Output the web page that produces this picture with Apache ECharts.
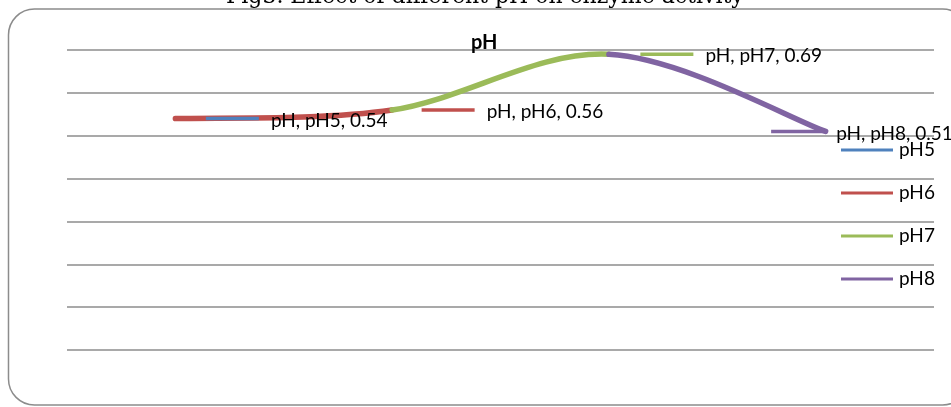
<!DOCTYPE html>
<html>
<head>
<meta charset="utf-8">
<script src="https://cdn.jsdelivr.net/npm/echarts@6/dist/echarts.min.js"></script>
<style>
html,body{margin:0;padding:0;background:#fff;}
#chart{width:951px;height:407px;}
</style>
</head>
<body>
<div id="chart"></div>
<script>
const figureTitle = 'Fig3. Effect of different pH on enzyme activity';
const chartTitle = 'pH';
const seriesName = 'pH';
const categories = ['pH5', 'pH6', 'pH7', 'pH8'];
const values = [0.54, 0.56, 0.69, 0.51];
const yTicks = [0, 0.1, 0.2, 0.3, 0.4, 0.5, 0.6, 0.7];

const pointColors = ['#4F81BD', '#C0504D', '#9BBB59', '#8064A2'];
const labelOffsets = [[0, 0], [-1, 0], [1, 0], [-85, 0]];
const FONT = 'Lato';
const LINE_W = 5.5;

const rich = {};
pointColors.forEach((c, i) => {
  rich['k' + i] = { width: 53, height: 3.5, backgroundColor: c };
});
rich.t = { fontFamily: FONT, fontSize: 19, color: '#000', padding: [4, 0, 0, 12] };

const labelData = values.map((v, i) => ({
  value: v,
  label: { offset: labelOffsets[i] }
}));

const legendSeries = categories.map((c, i) => ({
  name: c,
  type: 'line',
  data: [],
  symbol: 'none',
  color: pointColors[i],
  lineStyle: { color: pointColors[i], width: 3 }
}));

// Excel-like smoothed line (Catmull-Rom through the points), segment i coloured with point i's colour
function renderSegment(params, api) {
  const i = params.dataIndex;
  if (i === 0) return null;
  const P = values.map((v, k) => api.coord([k, v]));
  const p0 = P[i - 1], p1 = P[i];
  const pPrev = P[Math.max(i - 2, 0)], pNext = P[Math.min(i + 1, P.length - 1)];
  const c1 = [p0[0] + (p1[0] - pPrev[0]) / 6, p0[1] + (p1[1] - pPrev[1]) / 6];
  const c2 = [p1[0] - (pNext[0] - p0[0]) / 6, p1[1] - (pNext[1] - p0[1]) / 6];
  return {
    type: 'bezierCurve',
    shape: { x1: p0[0], y1: p0[1], cpx1: c1[0], cpy1: c1[1], cpx2: c2[0], cpy2: c2[1], x2: p1[0], y2: p1[1] },
    style: { stroke: pointColors[i], lineWidth: LINE_W, fill: 'none', lineCap: 'round' },
    silent: true
  };
}

const chart = echarts.init(document.getElementById('chart'), null, { renderer: 'canvas' });
chart.setOption({
  animation: false,
  backgroundColor: '#fff',
  title: [
    {
      text: figureTitle, left: 226, top: -14, padding: 0,
      textStyle: { fontFamily: 'DejaVu Serif', fontSize: 22, fontWeight: 'normal', color: '#000' }
    },
    {
      text: chartTitle, left: 471, top: 33, padding: 0,
      textStyle: { fontFamily: FONT, fontSize: 20, fontWeight: 'bold', color: '#000' }
    }
  ],
  graphic: [{
    type: 'rect', z: 100, silent: true,
    shape: { x: 8.5, y: 9, width: 960, height: 396, r: 26 },
    style: { fill: 'none', stroke: '#8c8c8c', lineWidth: 1.5 }
  }],
  legend: {
    orient: 'vertical',
    left: 841, top: 134, padding: [5, 0, 5, 0],
    itemWidth: 52, itemHeight: 3, itemGap: 21,
    icon: 'rect',
    data: categories,
    textStyle: { fontFamily: FONT, fontSize: 19, color: '#000', lineHeight: 20, padding: [2, 0, 0, 1] }
  },
  grid: { left: 67, right: 17, top: 50, bottom: 57, containLabel: false },
  xAxis: {
    type: 'category', data: categories, boundaryGap: true,
    axisLine: { show: false }, axisTick: { show: false }, axisLabel: { show: false }
  },
  yAxis: {
    type: 'value', min: yTicks[0], max: yTicks[yTicks.length - 1], interval: 0.1,
    axisLine: { show: false }, axisTick: { show: false }, axisLabel: { show: false },
    splitLine: { lineStyle: { color: '#8c8c8c', width: 1.5 } }
  },
  series: [
    {
      name: seriesName, type: 'custom', renderItem: renderSegment,
      data: values.map((v, i) => [i, v]),
      z: 2, silent: true
    },
    {
      name: seriesName + ' labels', type: 'line', data: labelData,
      symbol: 'circle', symbolSize: 1, showSymbol: true,
      itemStyle: { color: 'rgba(0,0,0,0)' },
      lineStyle: { width: 0, opacity: 0 },
      label: {
        show: true, position: 'right', distance: 30,
        formatter: p => `{k${p.dataIndex}|}{t|${seriesName}, ${p.name}, ${p.value}}`,
        rich: rich
      },
      z: 3, silent: true
    },
    ...legendSeries
  ]
});
</script>
</body>
</html>
